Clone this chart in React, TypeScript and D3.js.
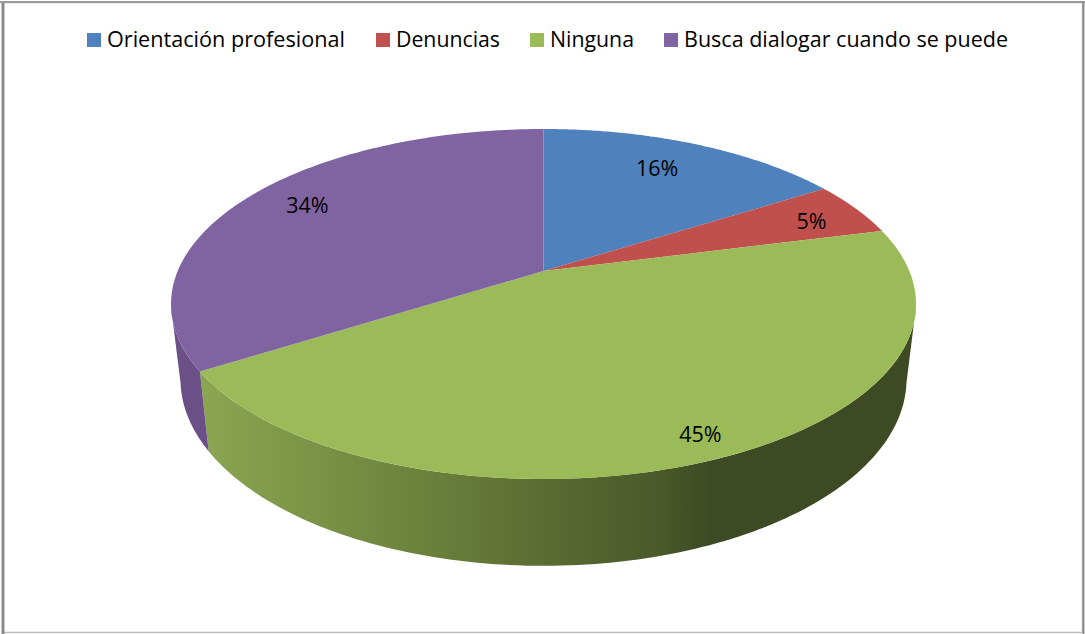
import React from 'react';
import * as d3 from 'd3';

const categories = ['Orientación profesional', 'Denuncias', 'Ninguna', 'Busca dialogar cuando se puede'];
const values = [16, 5, 45, 34];
const colors = ['#4f81bd', '#c0504d', '#9bbb59', '#8064a2'];
const sideColors = ['#3f6797', '#9a403e', 'url(#greenSide)', '#6a5087'];

const width = 1085, height = 634;

// perspective disc: centre x, apex y, half sizes of the top and bottom face
const cx = 543.5;
const k = 0.1886;
const topFace = { y: 271, rx: 365.8, ry: 168.8 };
const botFace = { y: 344, rx: 356.5, ry: 180 };

// where Excel put the labels, as fraction of radius
const labelRadius = [0.786, 0.789, 0.89, 0.8];
const labelNudge = [[-9, 0], [18, 0], [4, 0], [3, -5]];

// legend, x of swatch and text width as measured
const legendX = [87, 376, 530, 664];
const legendW = [238, 104, 84, 324];

type Face = typeof topFace;

const project = (a: number, r: number, f: Face): [number, number] => {
    const x = r * Math.sin(a), z = r * Math.cos(a);
    const w = 1 + k * z;
    return [cx + f.rx * x / w, f.y - f.ry * z / w];
};

const arcPoints = (a0: number, a1: number, f: Face) =>
    d3.range(0, 1.0001, 1 / 120).map(t => project(a0 + (a1 - a0) * t, 1, f));

const line = d3.line();

export default function App() {
    const arcs = d3.pie<number>().sort(null)(values);

    // the wall is only seen between the two silhouette points of the disc
    const wallFrom = (102 * Math.PI) / 180, wallTo = (258 * Math.PI) / 180;
    const walls = arcs.map((d, i) => {
        const a0 = Math.max(d.startAngle, wallFrom), a1 = Math.min(d.endAngle, wallTo);
        if (a1 <= a0) return null;
        const pts = [...arcPoints(a0, a1, topFace), ...arcPoints(a0, a1, botFace).reverse()];
        return <path key={i} d={line(pts) + 'Z'} fill={sideColors[i]} />;
    });

    const tops = arcs.map((d, i) => {
        const pts = [[cx, topFace.y] as [number, number], ...arcPoints(d.startAngle, d.endAngle, topFace)];
        return <path key={i} d={line(pts) + 'Z'} fill={colors[i]} />;
    });

    const labels = arcs.map((d, i) => {
        const [x, y] = project((d.startAngle + d.endAngle) / 2, labelRadius[i], topFace);
        return (
            <text key={i} x={x + labelNudge[i][0]} y={y + labelNudge[i][1]} dy="0.35em"
                textAnchor="middle" fontSize={21.5} fill="#000">
                {d.data}%
            </text>
        );
    });

    return (
        <svg width={width} height={height} fontFamily="'Open Sans', sans-serif"
            style={{ position: 'absolute', left: 0, top: 0, display: 'block', background: '#fff' }}>
            <defs>
                <linearGradient id="greenSide" gradientUnits="userSpaceOnUse" x1={200} x2={710} y1={0} y2={0}>
                    <stop offset="0" stopColor="#8ba651" />
                    <stop offset="0.36" stopColor="#708840" />
                    <stop offset="0.63" stopColor="#5e7033" />
                    <stop offset="0.9" stopColor="#49592a" />
                    <stop offset="1" stopColor="#3e4a23" />
                </linearGradient>
            </defs>
            <rect x={3} y={2.5} width={1079.5} height={630} fill="none" stroke="#bdbdbd" strokeWidth={1.5} />
            <line x1={3} x2={3} y1={2} y2={634} stroke="#8c8c8c" strokeWidth={3} />
            <line x1={0} x2={1085} y1={2} y2={2} stroke="#9a9a9a" strokeWidth={2} />
            <line x1={1083.5} x2={1083.5} y1={2} y2={634} stroke="#8c8c8c" strokeWidth={2} />
            {walls}
            {tops}
            {labels}
            {categories.map((c, i) => (
                <g key={c}>
                    <rect x={legendX[i]} y={33} width={14} height={14} fill={colors[i]} />
                    <text x={legendX[i] + 20} y={47} fontSize={21.5} fill="#000"
                        textLength={legendW[i]} lengthAdjust="spacingAndGlyphs">{c}</text>
                </g>
            ))}
        </svg>
    );
}
